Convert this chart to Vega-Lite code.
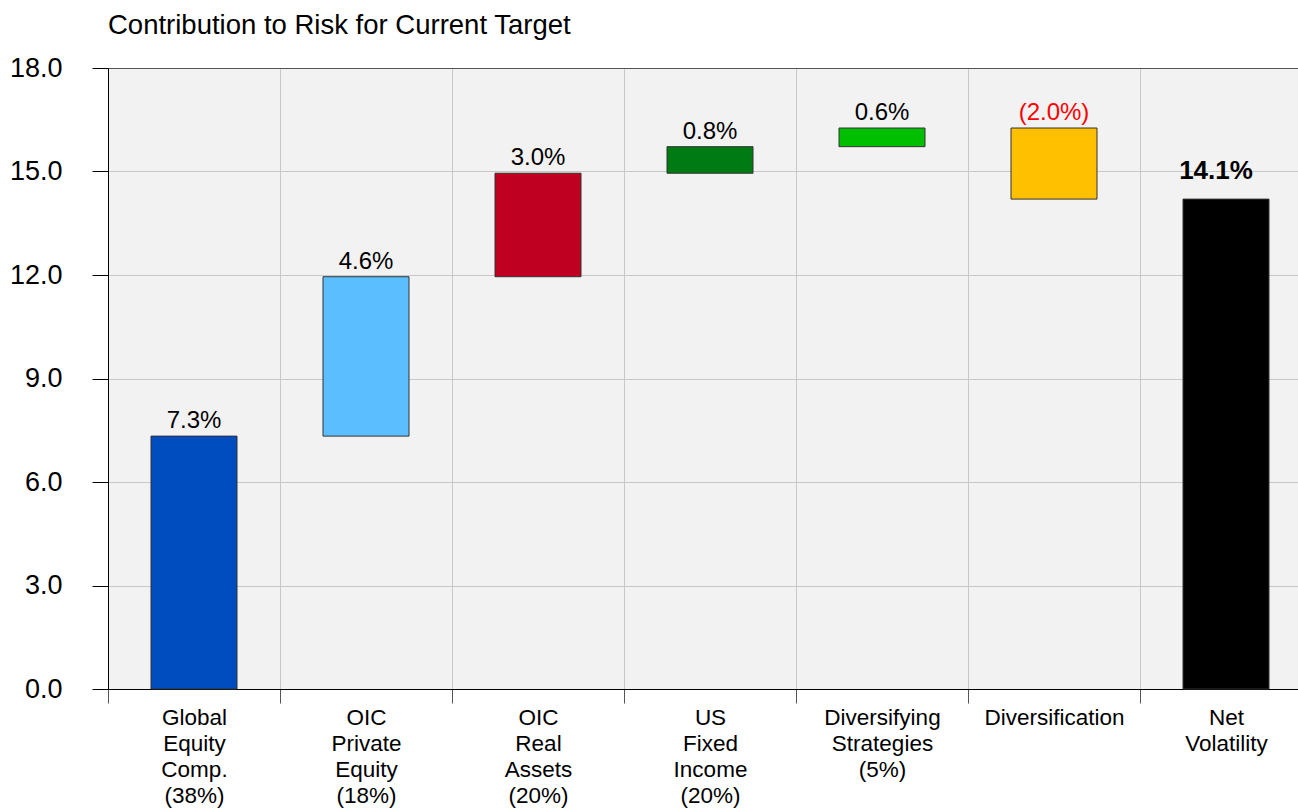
{
  "$schema": "https://vega.github.io/schema/vega-lite/v6.json",
  "width": 1190,
  "height": 621,
  "autosize": "none",
  "padding": {"left": 108, "top": 68, "right": 0, "bottom": 120},
  "background": "white",
  "title": {"text": "Contribution to Risk for Current Target", "anchor": "start", "frame": "group", "font": "Liberation Sans", "fontSize": 27.5, "fontWeight": "normal", "color": "#000000", "offset": 15},
  "config": {"view": {"fill": "#f2f2f2", "stroke": null}, "font": "Liberation Sans"},
  "data": {"values": [
    {"cat": "Global Equity", "label": "Global|Equity|Comp.|(38%)", "start": 0, "end": 7.33, "txt": "7.3%"},
    {"cat": "OIC Private Equity", "label": "OIC|Private|Equity|(18%)", "start": 7.33, "end": 11.95, "txt": "4.6%"},
    {"cat": "OIC Real Assets", "label": "OIC|Real|Assets|(20%)", "start": 11.95, "end": 14.95, "txt": "3.0%"},
    {"cat": "US Fixed Income", "label": "US|Fixed|Income|(20%)", "start": 14.95, "end": 15.72, "txt": "0.8%"},
    {"cat": "Diversifying Strategies", "label": "Diversifying|Strategies|(5%)", "start": 15.72, "end": 16.26, "txt": "0.6%"},
    {"cat": "Diversification", "label": "Diversification", "start": 16.26, "end": 14.2, "txt": "(2.0%)"},
    {"cat": "Net", "label": "Net|Volatility", "start": 0, "end": 14.2, "txt": "14.1%"}
  ]},
  "encoding": {
    "x": {
      "field": "label", "type": "nominal", "sort": null,
      "scale": {"range": [0, 1204], "paddingInner": 0, "paddingOuter": 0},
      "axis": {"title": null, "labelAngle": 0, "labelExpr": "split(datum.label, '|')", "labelFontSize": 22.5, "labelLineHeight": 26, "labelColor": "#000000", "labelFont": "Liberation Sans", "labelLimit": 0, "labelPadding": 3, "tickBand": "extent", "grid": true, "gridColor": "#c8c8c8", "tickColor": "#555555", "tickSize": 14, "domainColor": "#000000"}
    }
  },
  "layer": [
    {
      "mark": {"type": "bar", "stroke": "#333333", "strokeWidth": 1, "width": {"band": 0.5}},
      "encoding": {
        "y": {"field": "start", "type": "quantitative", "scale": {"domain": [0, 18]}, "axis": {"title": null, "values": [0, 3, 6, 9, 12, 15, 18], "format": ".1f", "labelFontSize": 27, "labelColor": "#000000", "labelFont": "Liberation Sans", "tickSize": 16, "labelPadding": 30, "domainColor": "#000000", "tickColor": "#000000", "gridColor": {"condition": {"test": "datum.value == 18", "value": "#555555"}, "value": "#c8c8c8"}}},
        "y2": {"field": "end"},
        "color": {"field": "cat", "type": "nominal", "legend": null, "scale": {"domain": ["Global Equity", "OIC Private Equity", "OIC Real Assets", "US Fixed Income", "Diversifying Strategies", "Diversification", "Net"], "range": ["#004dbf", "#5bbfff", "#bf0020", "#007a12", "#00bf00", "#ffc000", "#000000"]}}
      }
    },
    {
      "transform": [{"filter": "datum.cat != 'Net'"}, {"calculate": "max(datum.start, datum.end)", "as": "top"}],
      "mark": {"type": "text", "baseline": "bottom", "dy": -3, "fontSize": 24, "font": "Liberation Sans"},
      "encoding": {
        "y": {"field": "top", "type": "quantitative", "title": null},
        "text": {"field": "txt"},
        "color": {"condition": {"test": "datum.cat == 'Diversification'", "value": "#ff0000"}, "value": "#000000"}
      }
    },
    {
      "transform": [{"filter": "datum.cat == 'Net'"}],
      "mark": {"type": "text", "baseline": "bottom", "dy": -15, "dx": -10, "fontSize": 26, "fontWeight": "bold", "font": "Liberation Sans", "color": "#000000"},
      "encoding": {
        "y": {"field": "end", "type": "quantitative", "title": null},
        "text": {"field": "txt"}
      }
    }
  ]
}
